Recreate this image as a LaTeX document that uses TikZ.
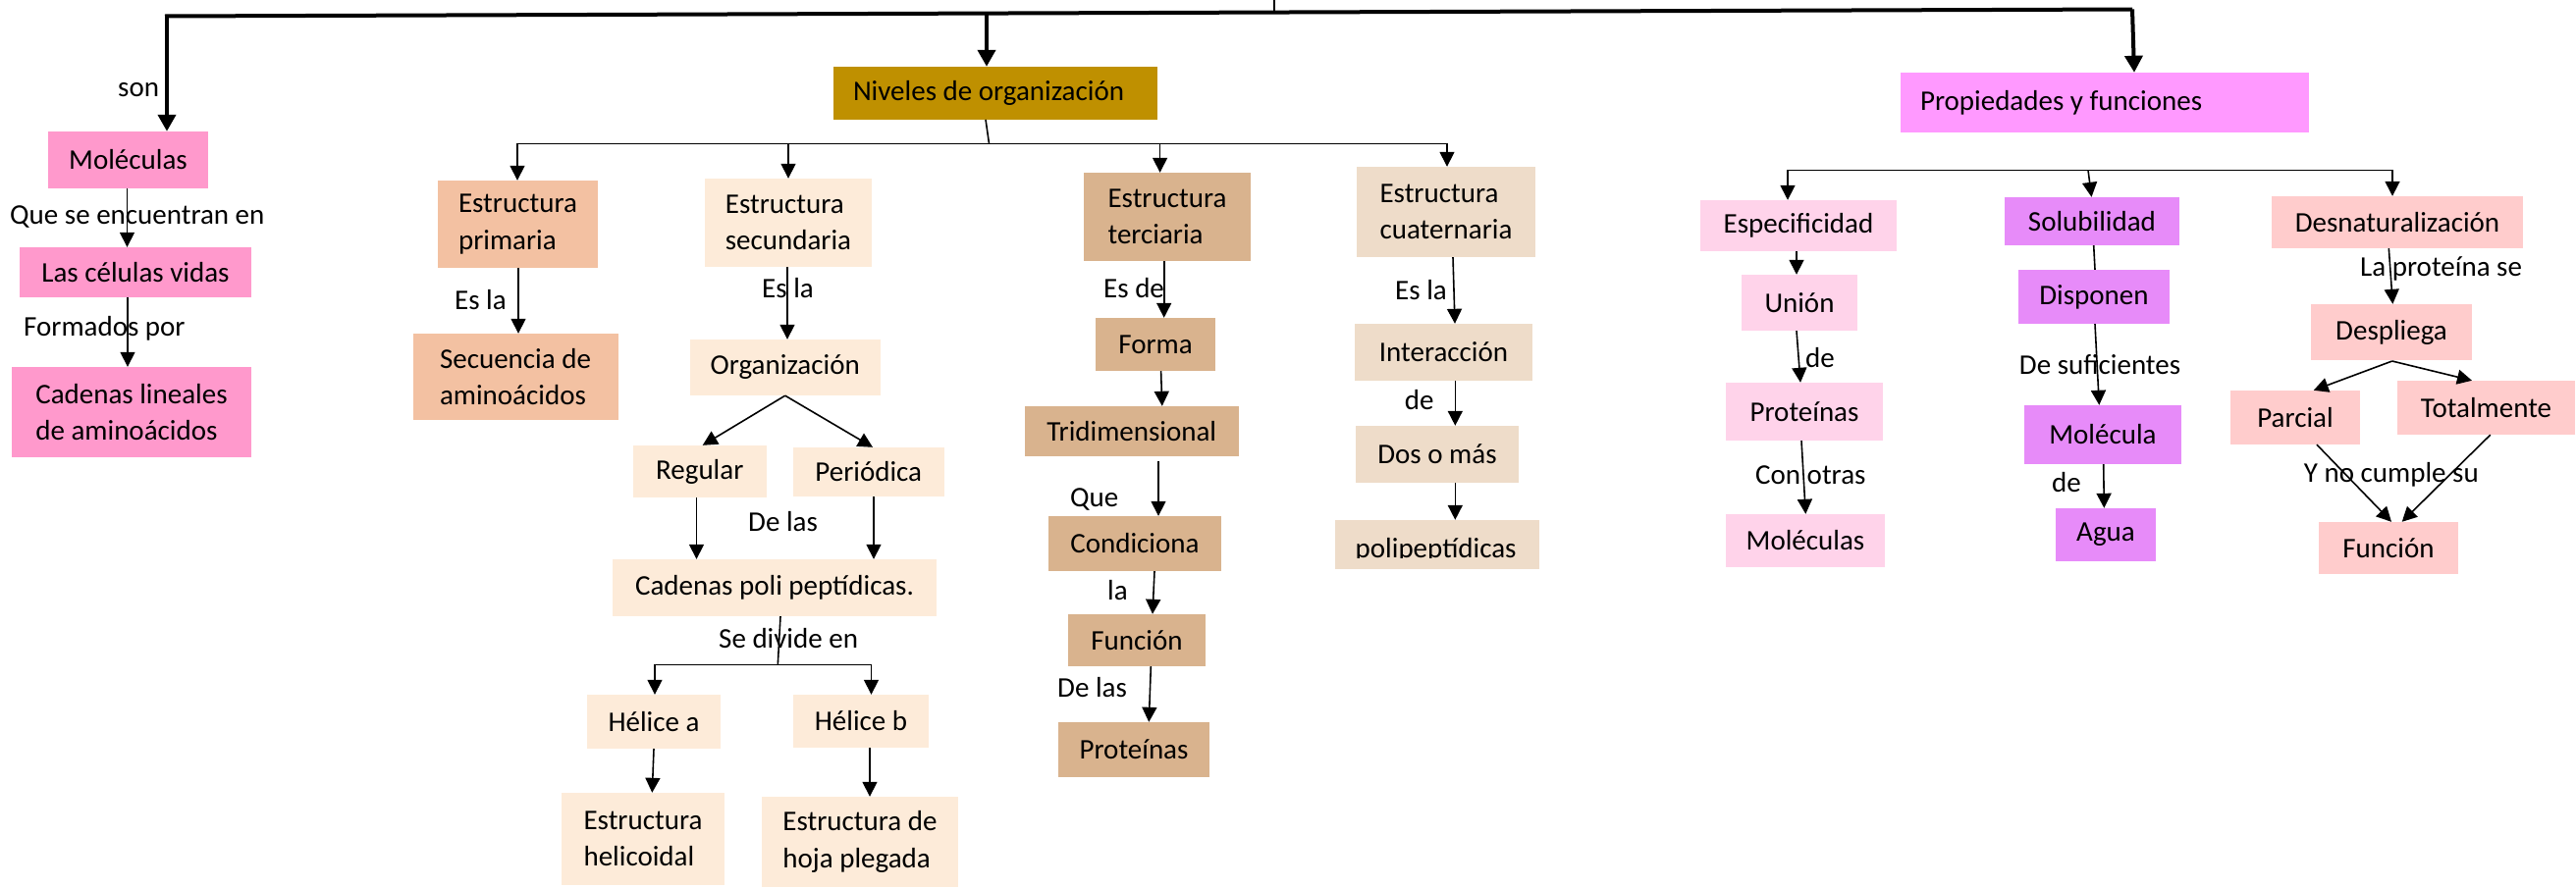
\documentclass[tikz,border=0pt]{standalone}
\usepackage{fontspec}
\setmainfont{Carlito}
\usetikzlibrary{arrows.meta}
\definecolor{cMol}{HTML}{FF99CC}
\definecolor{cNiv}{HTML}{BF9000}
\definecolor{cPri}{HTML}{F3C1A2}
\definecolor{cSec}{HTML}{FDEBD9}
\definecolor{cTer}{HTML}{D9B38E}
\definecolor{cCua}{HTML}{EEDCC9}
\definecolor{cPro}{HTML}{FF99FF}
\definecolor{cEsp}{HTML}{FFD3EA}
\definecolor{cSol}{HTML}{E78BF9}
\definecolor{cDes}{HTML}{FFCCCC}
\tikzset{
  box/.style={draw=none, inner xsep=4pt, inner ysep=0pt, align=left, text=black,
    font=\fontsize{29}{37.3}\selectfont},
  lbl/.style={inner sep=0pt, text=black, font=\fontsize{29}{37.3}\selectfont},
  conn/.style={line width=1.6pt, draw=black},
  arr/.style={conn, -{Triangle[width=15pt,length=15pt]}},
  boldline/.style={line width=4pt, draw=black},
  boldarr/.style={boldline, -{Triangle[width=18pt,length=17pt]}},
}
\newcommand{\bx}[7]{\node[box,#2,minimum width={(#5-#3)*1pt},minimum height={(#6-#4)*1pt}] (#1) at ({(#3+#5)/2},{(#4+#6)/2}) {#7};}
\begin{document}
\begin{tikzpicture}[x=1pt,y=-1pt]
\useasboundingbox (0,0) rectangle (2624,905);
\fill[white] (0,0) rectangle (2624,905);

% ---------- boxes ----------
\bx{mol}{fill=cMol}{49}{134}{212}{192}{Moléculas}
\bx{cel}{fill=cMol}{20}{252}{256}{303}{Las células vidas}
\bx{cad}{fill=cMol}{12}{374}{256}{466}{Cadenas lineales\\de aminoácidos}

\bx{niv}{fill=cNiv,inner xsep=20pt}{849}{68}{1178.5}{121.7}{\makebox[289.5pt][l]{Niveles de organización}}

\bx{prim}{fill=cPri}{446}{184}{609}{273}{Estructura\\primaria}
\bx{sec1}{fill=cPri}{420.5}{340}{629.5}{428}{Secuencia de\\aminoácidos}

\bx{secu}{fill=cSec}{718}{182}{888}{272}{Estructura\\secundaria}
\bx{org}{fill=cSec}{702.5}{346}{897}{403}{Organización}
\bx{reg}{fill=cSec}{644.5}{454}{781}{507}{Regular}
\bx{per}{fill=cSec}{808}{456}{961.5}{506}{Periódica}
\bx{cpp}{fill=cSec}{624}{570}{954}{628}{Cadenas poli peptídicas.}
\bx{ha}{fill=cSec}{598}{708}{734}{763}{Hélice a}
\bx{hb}{fill=cSec}{808}{708}{946}{762}{Hélice b}
\bx{eh}{fill=cSec}{572}{808}{738}{902}{Estructura\\helicoidal}
\bx{ehp}{fill=cSec}{776}{812}{976}{904}{Estructura de\\hoja plegada}

\bx{terc}{fill=cTer}{1104}{176}{1274}{266}{Estructura\\terciaria}
\bx{forma}{fill=cTer}{1116}{324}{1238}{378}{Forma}
\bx{tri}{fill=cTer}{1044}{414}{1261.5}{465}{Tridimensional}
\bx{cond}{fill=cTer}{1068}{526}{1244}{582}{Condiciona}
\bx{func}{fill=cTer}{1088}{626}{1228}{679}{Función}
\bx{prot}{fill=cTer}{1078}{736}{1232}{792}{Proteínas}

\bx{cuat}{fill=cCua}{1382}{170}{1564}{262}{Estructura\\cuaternaria}
\bx{inter}{fill=cCua}{1380}{330}{1561}{388}{Interacción}
\bx{dos}{fill=cCua}{1381}{434}{1547}{492}{Dos o más}
\bx{poli}{fill=cCua}{1360}{530}{1568}{580}{}
\begin{scope}
  \clip (1360,530) rectangle (1568,568.5);
  \node[lbl,anchor=base west] (politxt) at (1380.5,568.5) {polipeptídicas};
\end{scope}

\bx{prop}{fill=cPro,inner xsep=20pt}{1936}{74}{2352}{135}{\makebox[376pt][l]{Propiedades y funciones}}

\bx{esp}{fill=cEsp}{1732}{204}{1932}{256}{Especificidad}
\bx{union}{fill=cEsp}{1774}{280}{1892}{337}{Unión}
\bx{prot2}{fill=cEsp}{1758}{390}{1918}{449}{Proteínas}
\bx{mol2}{fill=cEsp}{1758}{524}{1920}{578}{Moléculas}

\bx{sol}{fill=cSol}{2042}{201}{2220}{250}{Solubilidad}
\bx{disp}{fill=cSol}{2056}{275}{2210}{330}{Disponen}
\bx{molec}{fill=cSol}{2062}{413}{2222}{473}{Molécula}
\bx{agua}{fill=cSol}{2094}{518}{2196}{572}{Agua}

\bx{des}{fill=cDes}{2314}{200}{2570}{253}{Desnaturalización}
\bx{desp}{fill=cDes}{2354}{310}{2518}{367}{Despliega}
\bx{parc}{fill=cDes}{2272}{398}{2404}{453}{Parcial}
\bx{tot}{fill=cDes}{2442}{388}{2623}{443}{Totalmente}
\bx{func2}{fill=cDes}{2362}{532}{2504}{585}{Función}

% ---------- labels ----------
\node[lbl,anchor=base west] (Lson) at (120,98) {son};
\node[lbl,anchor=base west] (Lque) at (10,228) {Que se encuentran en};
\node[lbl,anchor=base west] (Lfor) at (24,342) {Formados por};
\node[lbl,anchor=base west] (Lesla1) at (463,315) {Es la};
\node[lbl,anchor=base west] (Lesla2) at (776,303) {Es la};
\node[lbl,anchor=base west] (Ldelas1) at (762,541.7) {De las};
\node[lbl,anchor=base west] (Lsediv) at (732,660) {Se divide en};
\node[lbl,anchor=base west] (Lesde) at (1124,303) {Es de};
\node[lbl,anchor=base west] (Lque2) at (1090,516) {Que};
\node[lbl,anchor=base west] (Lla) at (1128,611.7) {la};
\node[lbl,anchor=base west] (Ldelas2) at (1077,710) {De las};
\node[lbl,anchor=base west] (Lesla3) at (1421,305) {Es la};
\node[lbl,anchor=base west] (Lde1) at (1430.6,417.3) {de};
\node[lbl,anchor=base west] (Lde2) at (1839,374) {de};
\node[lbl,anchor=base west] (Lcon) at (1788,493.3) {Con otras};
\node[lbl,anchor=base west] (Lsuf) at (2056.7,381.7) {De suficientes};
\node[lbl,anchor=base west] (Lde3) at (2090,501.7) {de};
\node[lbl,anchor=base west] (Lprot) at (2404,281.7) {La proteína se};
\node[lbl,anchor=base west] (Lyno) at (2346.7,491.7) {Y no cumple su};

% ---------- top bold connectors ----------
\coordinate (tL) at (168,16.5);
\coordinate (tR) at (2172,9.5);
\coordinate (tMol) at (170,16.5);
\coordinate (tNiv) at (1005,13.5);
\coordinate (tV) at (1298,12.5);
\coordinate (tVtop) at (1298,0);
\draw[boldline] (tL) -- (tR);
\draw[line width=2.5pt] (tV) -- (tVtop);
\draw[boldarr] (tMol) -- (tMol |- mol.north);
\draw[boldarr] (tNiv) -- (tNiv |- niv.north);
\draw[boldarr] (tR) -- (2174,0 |- prop.north);

% ---------- left column ----------
\draw[arr] (129.5,0 |- mol.south) -- (129.5,0 |- cel.north);
\draw[arr] (130,0 |- cel.south) -- (130,0 |- cad.north);

% ---------- niveles branch ----------
\coordinate (nJ) at (1007.5,146.3);
\coordinate (nL) at (527,146.3);
\coordinate (nS) at (803,146.3);
\coordinate (nT) at (1181.6,146.3);
\coordinate (nR) at (1474,146.3);
\draw[conn] (1004,0 |- niv.south) -- (nJ);
\draw[conn] (nL) -- (nR);
\draw[arr] (nL) -- (nL |- prim.north);
\draw[arr] (nS) -- (nS |- secu.north);
\draw[arr] (nT) -- (nT |- terc.north);
\draw[arr] (nR) -- (nR |- cuat.north);

% primaria
\draw[arr] (528,0 |- prim.south) -- (528,0 |- sec1.north);
% secundaria
\draw[arr] (802,0 |- secu.south) -- (802,0 |- org.north);
\draw[arr] (org.south) -- (715.7,0 |- reg.north);
\draw[arr] (org.south) -- (889,0 |- per.north);
\draw[arr] (709.5,0 |- reg.south) -- (709.5,0 |- cpp.north);
\draw[arr] (890,0 |- per.south) -- (890,0 |- cpp.north);
\coordinate (cJ) at (792.3,677.3);
\coordinate (cL) at (667,677.3);
\coordinate (cR) at (887.5,677.3);
\draw[conn] (795,0 |- cpp.south) -- (cJ);
\draw[conn] (cL) -- (cR);
\draw[arr] (cL) -- (cL |- ha.north);
\draw[arr] (cR) -- (cR |- hb.north);
\draw[arr] (666,0 |- ha.south) -- (664.3,0 |- eh.north);
\draw[arr] (886,0 |- hb.south) -- (886,0 |- ehp.north);

% terciaria
\draw[arr] (1185.7,0 |- terc.south) -- (1185.7,0 |- forma.north);
\draw[arr] (1182.6,0 |- forma.south) -- (1183.8,0 |- tri.north);
\draw[arr] (1180,470) -- (1180,0 |- cond.north);
\draw[arr] (1176,0 |- cond.south) -- (1174,0 |- func.north);
\draw[arr] (1172.3,0 |- func.south) -- (1170.3,0 |- prot.north);

% cuaternaria
\draw[arr] (1480,0 |- cuat.south) -- (1482,0 |- inter.north);
\draw[arr] (1482.3,0 |- inter.south) -- (1482.3,0 |- dos.north);
\draw[arr] (1482.3,0 |- dos.south) -- (1482.3,0 |- poli.north);

% ---------- propiedades branch ----------
\coordinate (pL) at (1821,173.3);
\coordinate (pM) at (2127,173.3);
\coordinate (pR) at (2437,173.3);
\draw[conn] (pL) -- (pR);
\draw[arr] (pL) -- (pL |- esp.north);
\draw[arr] (pM) -- (2130.5,0 |- sol.north);
\draw[arr] (pR) -- (pR |- des.north);

% especificidad
\draw[arr] (1830,0 |- esp.south) -- (1830,0 |- union.north);
\draw[arr] (1830,0 |- union.south) -- (1834,0 |- prot2.north);
\draw[arr] (1835,0 |- prot2.south) -- (1839.3,0 |- mol2.north);

% solubilidad
\draw[conn] (2132.7,0 |- sol.south) -- (2134,0 |- disp.north);
\draw[arr] (2134,0 |- disp.south) -- (2138.3,0 |- molec.north);
\draw[arr] (2142.7,0 |- molec.south) -- (2143.3,0 |- agua.north);

% desnaturalizacion
\draw[arr] (2433.3,0 |- des.south) -- (2437.3,0 |- desp.north);
\coordinate (dS) at (2436.7,368);
\draw[arr] (dS) -- (2356.7,0 |- parc.north);
\draw[arr] (dS) -- (2518,0 |- tot.north);
\draw[arr] (2360,0 |- parc.south) -- (2436,0 |- func2.north);
\draw[arr] (2536.7,0 |- tot.south) -- (2446.7,0 |- func2.north);
\end{tikzpicture}
\end{document}
